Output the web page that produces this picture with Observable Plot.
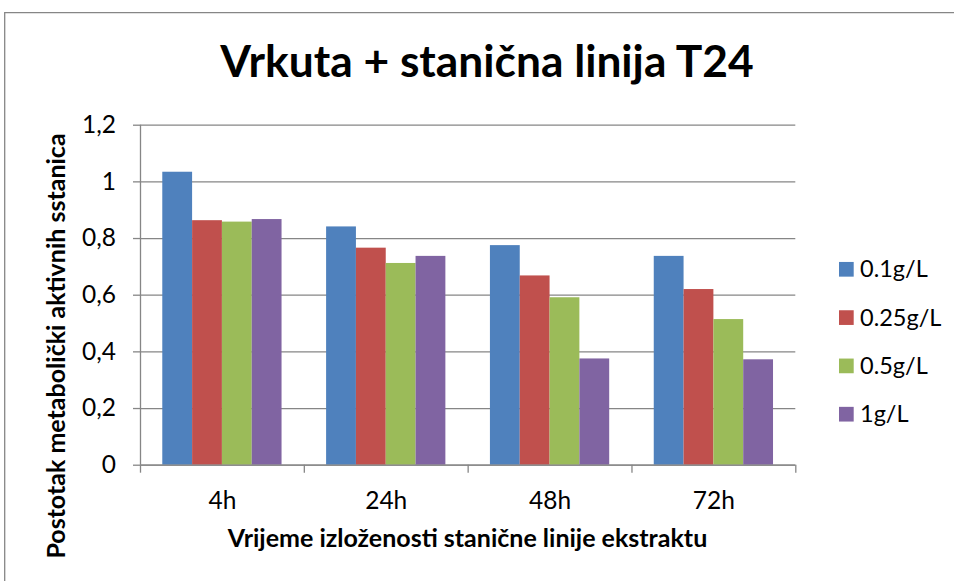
<!DOCTYPE html>
<html><head><meta charset="utf-8">
<script src="https://cdn.jsdelivr.net/npm/d3@7"></script>
<script src="https://cdn.jsdelivr.net/npm/@observablehq/plot@0.6"></script>
<style>
html,body{margin:0;padding:0;background:#fff;}
#wrap{position:relative;width:954px;height:581px;overflow:hidden;font-family:Lato,sans-serif;}
#wrap svg{position:absolute;left:0;top:0;}
g[aria-label^="y-axis"] line, g[aria-label="y-axis tick"] path,
g[aria-label^="x-axis"] line, g[aria-label="x-axis tick"] path,
g[aria-label^="y-axis"] path.domain, g[aria-label^="x-axis"] path.domain { stroke:#868686; stroke-width:1.3px; }
</style></head><body><div id="wrap"></div>
<script>
const times = ["4h", "24h", "48h", "72h"];
const series = ["0.1g/L", "0.25g/L", "0.5g/L", "1g/L"];
const v01  = [1.034, 0.841, 0.775, 0.737];
const v025 = [0.863, 0.766, 0.668, 0.620];
const v05  = [0.858, 0.712, 0.591, 0.514];
const v1   = [0.867, 0.737, 0.375, 0.372];
const colors = ["#4F81BD", "#C0504D", "#9BBB59", "#8064A2"];
const yTicks = [0, 0.2, 0.4, 0.6, 0.8, 1, 1.2];
const yTickLabels = ["0", "0,2", "0,4", "0,6", "0,8", "1", "1,2"];
const titleText = "Vrkuta + stanična linija T24";
const xTitleText = "Vrijeme izloženosti stanične linije ekstraktu";
const yTitleText = "Postotak metabolički aktivnih sstanica";

const values = [v01, v025, v05, v1];
const rows = [];
times.forEach((t, i) => series.forEach((s, j) => rows.push({time: t, ti: i, series: s, sj: j, value: values[j][i]})));

const groupFrac = 0.728;               // share of each category used by its bars
const barW = groupFrac / series.length;
const grid = "#868686";

const chart = Plot.plot({
  width: 954, height: 581,
  marginLeft: 140, marginRight: 158.7, marginTop: 124.7, marginBottom: 116.3,
  style: {fontFamily: "Lato, sans-serif", fontSize: "24.5px", color: "#000", background: "transparent", overflow: "visible"},
  x: {type: "linear", domain: [-0.5, times.length - 0.5], ticks: d3.range(times.length + 1).map(k => k - 0.5),
      tickFormat: () => "", tickSize: 8, label: null},
  y: {domain: [0, 1.2], ticks: yTicks, tickFormat: d => yTickLabels[yTicks.indexOf(d)], tickSize: 7, tickPadding: 17.5, label: null},
  color: {domain: series, range: colors},
  marks: [
    Plot.ruleY(yTicks, {stroke: grid, strokeWidth: 1.3}),
    Plot.rectY(rows, {
      x1: d => d.ti - groupFrac / 2 + d.sj * barW,
      x2: d => d.ti - groupFrac / 2 + (d.sj + 1) * barW,
      y: "value", fill: "series"
    }),
    Plot.ruleX([-0.5], {stroke: grid, strokeWidth: 1.3}),
    Plot.ruleY([0], {stroke: grid, strokeWidth: 1.3}),
    Plot.text(times, {x: (d, i) => i, frameAnchor: "bottom", lineAnchor: "bottom", dy: 43.6, fontSize: 24.5, fill: "#000"})
  ]
});
document.getElementById("wrap").appendChild(chart);

// overlay: border, titles, legend
const svg = d3.select("#wrap").append("svg").attr("width", 954).attr("height", 581)
  .style("font-family", "Lato, sans-serif");
svg.append("path").attr("d", "M954,12.7H4.7V581").attr("fill", "none").attr("stroke", grid).attr("stroke-width", 1.3);
svg.append("text").attr("x", 487).attr("y", 77).attr("text-anchor", "middle")
  .attr("font-weight", "bold").attr("font-size", 44.3).text(titleText);
svg.append("text").attr("x", 467.5).attr("y", 547.3).attr("text-anchor", "middle")
  .attr("font-weight", "bold").attr("font-size", 25).text(xTitleText);
svg.append("text").attr("transform", "translate(65,346) rotate(-90)").attr("text-anchor", "middle")
  .attr("font-weight", "bold").attr("font-size", 25).text(yTitleText);
const lg = svg.append("g");
series.forEach((s, k) => {
  const cy = 269.3 + 48.3 * k;
  lg.append("rect").attr("x", 839).attr("y", cy - 7.35).attr("width", 14.7).attr("height", 14.7).attr("fill", colors[k]);
  lg.append("text").attr("x", 860).attr("y", cy + 8).attr("font-size", 23.5).text(s);
});
</script></body></html>
